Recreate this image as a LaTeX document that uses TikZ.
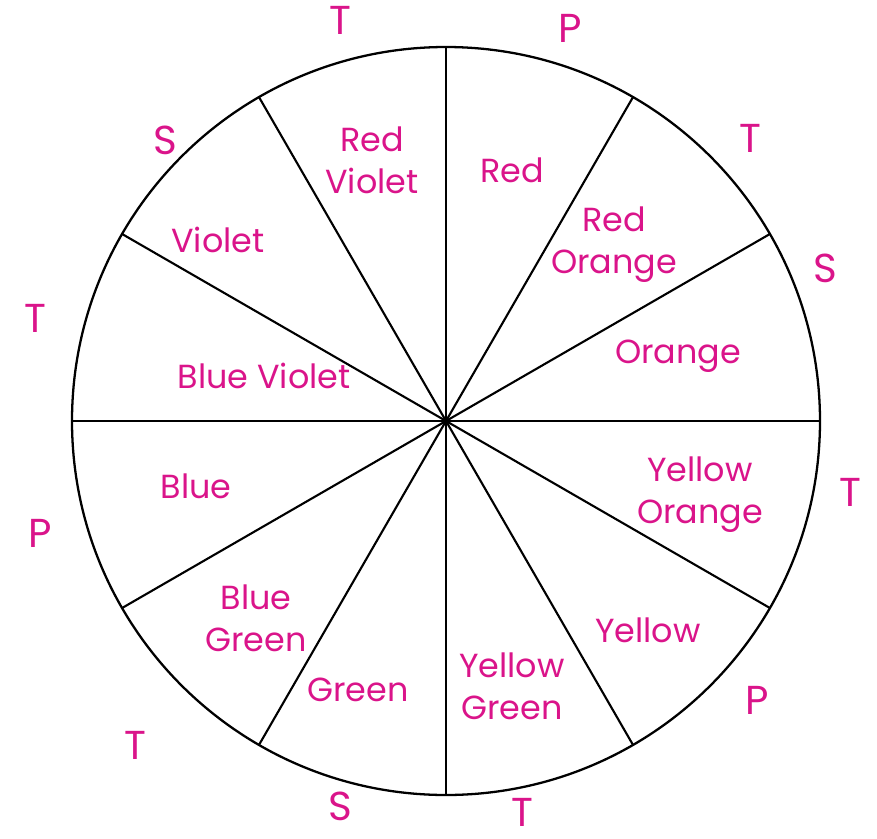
\documentclass[tikz,border=0pt]{standalone}
\usepackage{fontspec}
\setmainfont{Poppins}
\definecolor{pen}{RGB}{218,20,138}

\begin{document}
\begin{tikzpicture}[x=0.02cm, y=-0.02cm,
    hue/.style={text=pen, font=\fontsize{19}{24}\selectfont, align=center},
    mark letter/.style={text=pen, font=\fontsize{23}{27}\selectfont, inner sep=0pt}]
  \useasboundingbox (0,0) rectangle (877,839);

  % Rad und Speichen
  \coordinate (mid) at (446,421);
  \draw[line width=1.3pt] (mid) circle (374);
  \foreach \ang in {0,30,...,330}
    \draw[line width=1.2pt] (mid) -- ++(\ang:374);
  \fill (mid) circle (3);

  % Farbnamen
  \node[hue] (rv) at (372,160) {Red\\Violet};
  \node[hue] (r) at (512,170) {Red};
  \node[hue] (ro) at (614,245) {Red\\Orange};
  \node[hue] (o) at (678,356) {Orange};
  \node[hue] (yo) at (700,495) {Yellow\\Orange};
  \node[hue] (y) at (648,630) {Yellow};
  \node[hue] (yg) at (512,686) {Yellow\\Green};
  \node[hue] (g) at (358,690) {Green};
  \node[hue] (bg) at (256,618) {Blue\\Green};
  \node[hue] (b) at (196,486) {Blue};
  \node[hue] (bv) at (264,376) {Blue Violet};
  \node[hue] (v) at (218,240) {Violet};

  % P / S / T aussen
  \node[mark letter] (m1) at (340,20) {T};
  \node[mark letter] (m2) at (570,28) {P};
  \node[mark letter] (m3) at (750,138) {T};
  \node[mark letter] (m4) at (825,268) {S};
  \node[mark letter] (m5) at (850,492) {T};
  \node[mark letter] (m6) at (757,700) {P};
  \node[mark letter] (m7) at (522,812) {T};
  \node[mark letter] (m8) at (340,806) {S};
  \node[mark letter] (m9) at (135,745) {T};
  \node[mark letter] (m10) at (40,533) {P};
  \node[mark letter] (m11) at (35,318) {T};
  \node[mark letter] (m12) at (165,140) {S};
\end{tikzpicture}
\end{document}
